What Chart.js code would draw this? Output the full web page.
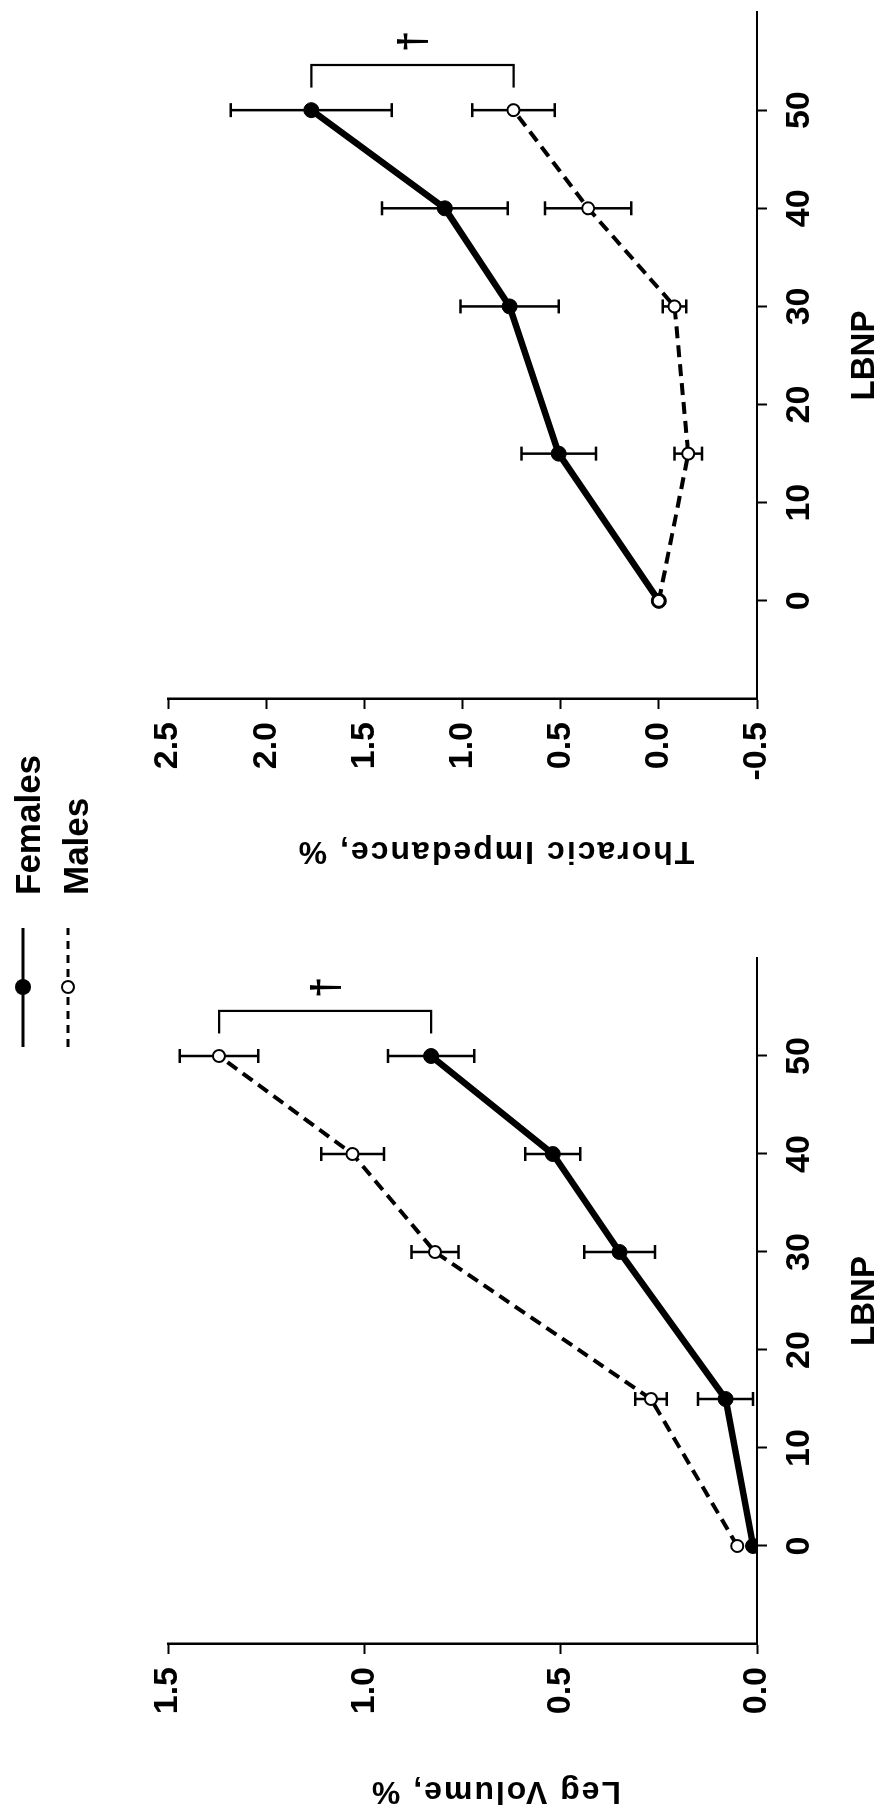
<!DOCTYPE html>
<html><head><meta charset="utf-8">
<script src="https://cdn.jsdelivr.net/npm/chart.js@4/dist/chart.umd.min.js"></script>
<style>
html,body{margin:0;padding:0;background:#fff;width:881px;height:1818px;overflow:hidden;}
#fig{position:absolute;left:0;top:0;width:1818px;height:881px;transform-origin:0 0;transform:translate(0px,1818px) rotate(-90deg);background:#fff;}
#cLeg{position:absolute;left:0;top:0;}
#cTho{position:absolute;left:940px;top:0;}
.lg{position:absolute;font-family:"Liberation Sans",Arial,sans-serif;font-weight:bold;font-size:35px;line-height:1;color:#000;white-space:nowrap;}
#lgs{position:absolute;left:760px;top:0;}
</style></head><body>
<div id="fig">
<canvas id="cLeg" width="940" height="881"></canvas>
<canvas id="cTho" width="878" height="881"></canvas>
<svg id="lgs" width="150" height="100" xmlns="http://www.w3.org/2000/svg">
  <line x1="11" y1="23" x2="130" y2="23" stroke="#000" stroke-width="3"/>
  <circle cx="71" cy="23" r="8" fill="#000"/>
  <line x1="11" y1="68" x2="130" y2="68" stroke="#000" stroke-width="3" stroke-dasharray="8 6"/>
  <circle cx="71" cy="68" r="6" fill="#fff" stroke="#000" stroke-width="2"/>
</svg>
<div class="lg" style="left:923px;top:10px">Females</div>
<div class="lg" style="left:923px;top:58px">Males</div>
</div>
<script>
// ---- data ----
const lbnp = [0, 15, 30, 40, 50];
const legFemales   = [0.01, 0.08, 0.35, 0.52, 0.83];
const legFemalesSE = [0, 0.07, 0.09, 0.07, 0.11];
const legMales     = [0.05, 0.27, 0.82, 1.03, 1.37];
const legMalesSE   = [0, 0.04, 0.06, 0.08, 0.10];
const thoFemales   = [0, 0.51, 0.76, 1.09, 1.77];
const thoFemalesSE = [0, 0.19, 0.25, 0.32, 0.41];
const thoMales     = [0, -0.15, -0.08, 0.36, 0.74];
const thoMalesSE   = [0, 0.07, 0.06, 0.22, 0.21];
const lbnpTicks = [0, 10, 20, 30, 40, 50];
const legTicks = [0, 0.5, 1.0, 1.5];
const thoTicks = [-0.5, 0, 0.5, 1.0, 1.5, 2.0, 2.5];
const sigMark = '\u2020';

const FAM = '"Liberation Sans", Arial, sans-serif';

const errorBars = {
  id: 'errorBars',
  beforeDatasetsDraw(chart) {
    const ctx = chart.ctx, xs = chart.scales.x, ys = chart.scales.y;
    ctx.save();
    ctx.strokeStyle = '#000';
    ctx.lineWidth = 2.5;
    chart.data.datasets.forEach(ds => {
      ds.data.forEach((p, i) => {
        const e = ds.se[i];
        if (!e) return;
        const px = xs.getPixelForValue(p.x);
        const y1 = ys.getPixelForValue(p.y - e), y2 = ys.getPixelForValue(p.y + e);
        ctx.beginPath();
        ctx.moveTo(px, y1); ctx.lineTo(px, y2);
        ctx.moveTo(px - 7, y1); ctx.lineTo(px + 7, y1);
        ctx.moveTo(px - 7, y2); ctx.lineTo(px + 7, y2);
        ctx.stroke();
      });
    });
    ctx.restore();
  }
};

const bracket = {
  id: 'bracket',
  afterDatasetsDraw(chart) {
    const ctx = chart.ctx, xs = chart.scales.x, ys = chart.scales.y;
    const ds = chart.data.datasets;
    const last = lbnp.length - 1;
    const a = ds[0].data[last].y, b = ds[1].data[last].y;
    const xb = xs.getPixelForValue(54.6), xe = xs.getPixelForValue(52.3);
    const ya = ys.getPixelForValue(a), yb = ys.getPixelForValue(b);
    ctx.save();
    ctx.strokeStyle = '#000'; ctx.lineWidth = 2.2;
    ctx.beginPath();
    ctx.moveTo(xe, ya); ctx.lineTo(xb, ya); ctx.lineTo(xb, yb); ctx.lineTo(xe, yb);
    ctx.stroke();
    ctx.fillStyle = '#000';
    ctx.font = 'bold 38px ' + FAM;
    ctx.textAlign = 'center'; ctx.textBaseline = 'middle';
    ctx.fillText(sigMark, xs.getPixelForValue(57), ys.getPixelForValue((a + b) / 2) + 2);
    ctx.restore();
  }
};

const yTitle = {
  id: 'yTitle',
  afterDraw(chart, args, opts) {
    const ctx = chart.ctx;
    ctx.save();
    ctx.font = 'bold 32px ' + FAM;
    try { ctx.letterSpacing = '2px'; } catch (e) {}
    ctx.fillStyle = '#000'; ctx.textAlign = 'center'; ctx.textBaseline = 'alphabetic';
    ctx.translate(opts.x, (chart.scales.y.top + chart.scales.y.bottom) / 2 + opts.shift);
    ctx.rotate(-Math.PI / 2);
    ctx.fillText(opts.text, 0, 0);
    ctx.restore();
  }
};

function makeChart(id, c) {
  const pts = arr => lbnp.map((x, i) => ({ x: x, y: arr[i] }));
  return new Chart(document.getElementById(id), {
    type: 'line',
    data: { datasets: [
      { label: 'Females', order: 1, data: pts(c.fem), se: c.femSE, borderColor: '#000', borderWidth: 6.5,
        pointRadius: 7.5, pointBackgroundColor: '#000', pointBorderColor: '#000', pointBorderWidth: 1,
        tension: 0, fill: false },
      { label: 'Males', order: 0, data: pts(c.mal), se: c.malSE, borderColor: '#000', borderWidth: 4, borderDash: [12, 7],
        pointRadius: 6, pointBackgroundColor: '#fff', pointBorderColor: '#000', pointBorderWidth: 2,
        tension: 0, fill: false }
    ]},
    options: {
      responsive: false, animation: false, devicePixelRatio: 1,
      layout: { padding: { left: 0, right: c.padRight, top: 168, bottom: 0 } },
      plugins: { legend: { display: false }, tooltip: { enabled: false },
                 yTitle: { text: c.title, x: 36, shift: 33 } },
      scales: {
        x: {
          type: 'linear', min: -10, max: 60,
          afterBuildTicks: s => { s.ticks = lbnpTicks.map(v => ({ value: v })); },
          afterFit: s => { s.height = 124; },
          border: { display: true, color: '#000', width: 2 },
          grid: { drawOnChartArea: false, drawTicks: true, tickLength: 10, tickWidth: 2, color: '#000' },
          ticks: { color: '#000', font: { family: FAM, size: 34, weight: 'bold' }, padding: 12,
                   maxRotation: 0, autoSkip: false, callback: v => String(v) },
          title: { display: true, text: 'LBNP', color: '#000',
                   font: { family: FAM, size: 33, weight: 'bold', lineHeight: 1 }, padding: { top: 0, bottom: 0 } }
        },
        y: {
          type: 'linear', min: c.yMin, max: c.yMax,
          afterBuildTicks: s => { s.ticks = c.yTicks.map(v => ({ value: v })); },
          afterFit: s => { s.width = c.yWidth; },
          border: { display: true, color: '#000', width: 2.5 },
          grid: { drawOnChartArea: false, drawTicks: true, tickLength: 10, tickWidth: 2, color: '#000' },
          ticks: { color: '#000', font: { family: FAM, size: 34, weight: 'bold' }, padding: 13,
                   autoSkip: false, callback: v => Number(v).toFixed(1) }
        }
      }
    },
    plugins: [errorBars, bracket, yTitle]
  });
}

makeChart('cLeg', { fem: legFemales, femSE: legFemalesSE, mal: legMales, malSE: legMalesSE,
  yMin: 0, yMax: 1.5, yTicks: legTicks, title: 'Leg Volume, %', padRight: 80, yWidth: 174 });
makeChart('cTho', { fem: thoFemales, femSE: thoFemalesSE, mal: thoMales, malSE: thoMalesSE,
  yMin: -0.5, yMax: 2.5, yTicks: thoTicks, title: 'Thoracic Impedance, %', padRight: 12, yWidth: 179 });
</script>
</body></html>
